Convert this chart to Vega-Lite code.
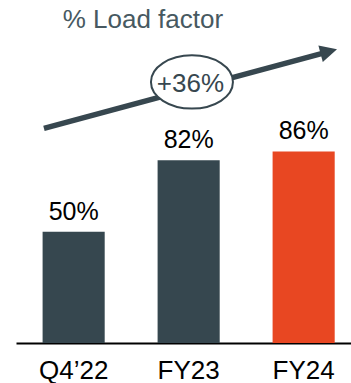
{
  "$schema": "https://vega.github.io/schema/vega-lite/v6.json",
  "width": 335,
  "height": 343,
  "padding": {"left": 16, "top": 0, "right": 0, "bottom": 40},
  "autosize": {"type": "none"},
  "background": "white",
  "config": {"view": {"stroke": null}, "font": "Liberation Sans"},
  "resolve": {"scale": {"x": "independent"}},
  "layer": [
    {
      "data": {
        "values": [
          {"period": "Q4’22", "value": 50, "label": "50%"},
          {"period": "FY23", "value": 82, "label": "82%"},
          {"period": "FY24", "value": 86, "label": "86%"}
        ]
      },
      "encoding": {
        "x": {
          "field": "period",
          "type": "nominal",
          "sort": null,
          "scale": {"paddingInner": 0.46, "paddingOuter": 0.1865, "align": 0.62},
          "axis": {
            "title": null,
            "labelAngle": 0,
            "ticks": false,
            "domainColor": "#000000",
            "domainWidth": 2,
            "labelFontSize": 26,
            "labelColor": "#000000",
            "labelFont": "Liberation Sans",
            "labelPadding": 14,
            "grid": false
          }
        },
        "y": {
          "field": "value",
          "type": "quantitative",
          "scale": {"domain": [0, 154], "nice": false, "zero": true},
          "axis": null
        }
      },
      "layer": [
        {
          "mark": {"type": "bar"},
          "encoding": {
            "color": {
              "field": "period",
              "type": "nominal",
              "scale": {"domain": ["Q4’22", "FY23", "FY24"], "range": ["#36474f", "#36474f", "#e84722"]},
              "legend": null
            }
          }
        },
        {
          "mark": {"type": "text", "baseline": "alphabetic", "dy": -12, "fontSize": 25, "color": "#000000"},
          "encoding": {"text": {"field": "label"}}
        }
      ]
    },
    {
      "layer": [
        {
          "data": {"values": [{"x": -0.257, "y": 96.4, "x2": 2.22, "y2": 130.85}]},
          "mark": {"type": "rule", "strokeWidth": 5.5, "color": "#37474f"},
          "encoding": {
            "x": {"field": "x", "type": "quantitative", "scale": {"domain": [-0.5, 2.413], "nice": false, "zero": false}, "axis": null},
            "y": {"field": "y", "type": "quantitative", "scale": {"domain": [0, 154], "nice": false}, "axis": null},
            "x2": {"field": "x2"},
            "y2": {"field": "y2"}
          }
        },
        {
          "data": {"values": [{"x": 2.22, "y": 130.85}]},
          "mark": {"type": "point", "shape": "M-1,-1L1,0L-1,1Z", "size": 289, "angle": 345, "filled": true, "color": "#37474f", "opacity": 1, "strokeWidth": 0},
          "encoding": {
            "x": {"field": "x", "type": "quantitative", "scale": {"domain": [-0.5, 2.413], "nice": false, "zero": false}, "axis": null},
            "y": {"field": "y", "type": "quantitative", "scale": {"domain": [0, 154], "nice": false}, "axis": null}
          }
        },
        {
          "data": {"values": [{"x": 1.03, "y": 117.2, "label": "+36%"}]},
          "encoding": {
            "x": {"field": "x", "type": "quantitative", "scale": {"domain": [-0.5, 2.413], "nice": false, "zero": false}, "axis": null},
            "y": {"field": "y", "type": "quantitative", "scale": {"domain": [0, 154], "nice": false}, "axis": null}
          },
          "layer": [
            {
              "mark": {
                "type": "point",
                "shape": "M-1,0C-1,-0.359,-0.5523,-0.65,0,-0.65C0.5523,-0.65,1,-0.359,1,0C1,0.359,0.5523,0.65,0,0.65C-0.5523,0.65,-1,0.359,-1,0Z",
                "size": 6724,
                "filled": true,
                "fill": "#ffffff",
                "stroke": "#37474f",
                "strokeWidth": 2,
                "opacity": 1,
                "fillOpacity": 1,
                "strokeOpacity": 1
              }
            },
            {
              "mark": {"type": "text", "baseline": "alphabetic", "dy": 10, "dx": -1.5, "fontSize": 26, "color": "#37474f"},
              "encoding": {"text": {"field": "label"}}
            }
          ]
        },
        {
          "data": {"values": [{"x": -0.094, "y": 141.6, "label": "% Load factor"}]},
          "mark": {"type": "text", "align": "left", "baseline": "alphabetic", "fontSize": 26, "color": "#475961"},
          "encoding": {
            "x": {"field": "x", "type": "quantitative", "scale": {"domain": [-0.5, 2.413], "nice": false, "zero": false}, "axis": null},
            "y": {"field": "y", "type": "quantitative", "scale": {"domain": [0, 154], "nice": false}, "axis": null},
            "text": {"field": "label"}
          }
        }
      ]
    }
  ]
}
